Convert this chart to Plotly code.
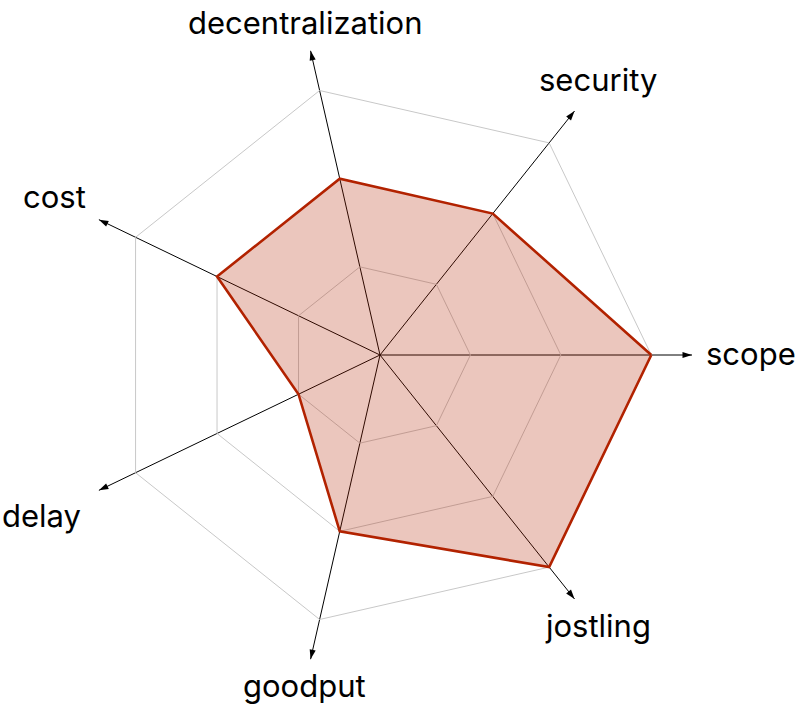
import math
import plotly.graph_objects as go

categories = ["scope", "security", "decentralization", "cost", "delay", "goodput", "jostling"]
values = [3, 2, 2, 2, 1, 2, 3]
grid_levels = [1, 2, 3]
axis_max = 3.45
# layout helpers (label placement radius per axis, arrow orientation)
label_r = [4.1, 3.87, 3.75, 4.0, 4.15, 3.77, 3.86]
n = len(categories)
step = 360 / n
arrow_angles = [90 - i * step for i in range(n)]

W, H = 800, 710
dom_x = [68 / W, 692 / W]
dom_y = [1 - 667 / H, 1 - 43 / H]
cx_px = (dom_x[0] + dom_x[1]) / 2 * W
cy_px = (dom_y[0] + dom_y[1]) / 2 * H
unit_px = (dom_x[1] - dom_x[0]) * W / 2 / axis_max

fig = go.Figure()

fig.add_trace(go.Scatterpolar(
    r=values + [values[0]],
    theta=categories + [categories[0]],
    mode="lines",
    fill="toself",
    fillcolor="rgba(178,34,0,0.26)",
    line=dict(color="#b22200", width=2.6),
    hoverinfo="skip",
))

fig.add_trace(go.Scatterpolar(
    r=[axis_max] * n,
    theta=categories,
    mode="markers",
    marker=dict(symbol="arrow", size=10, color="black", angle=arrow_angles,
                line=dict(width=0)),
    hoverinfo="skip",
    cliponaxis=False,
))

annotations = []
for i, (cat, lr) in enumerate(zip(categories, label_r)):
    a = math.radians(i * step)
    annotations.append(dict(
        x=(cx_px + lr * unit_px * math.cos(a)) / W,
        y=(cy_px + lr * unit_px * math.sin(a)) / H,
        xref="paper", yref="paper", text=cat, showarrow=False,
        xanchor="center", yanchor="middle", yshift=2,
        font=dict(family="Inter", size=31, color="black"),
    ))

fig.update_layout(
    width=W, height=H,
    margin=dict(l=0, r=0, t=0, b=0),
    paper_bgcolor="white",
    showlegend=False,
    annotations=annotations,
    polar=dict(
        domain=dict(x=dom_x, y=dom_y),
        bgcolor="rgba(0,0,0,0)",
        gridshape="linear",
        radialaxis=dict(
            range=[0, axis_max], tickvals=grid_levels, showticklabels=False,
            ticks="", showline=False, showgrid=True,
            gridcolor="#c8c8c8", gridwidth=1, angle=0,
        ),
        angularaxis=dict(
            categoryorder="array", categoryarray=categories,
            rotation=0, direction="counterclockwise",
            showline=False, showgrid=True, gridcolor="black", gridwidth=1.3,
            ticks="", showticklabels=False,
        ),
    ),
)

fig.write_html("out.html")
